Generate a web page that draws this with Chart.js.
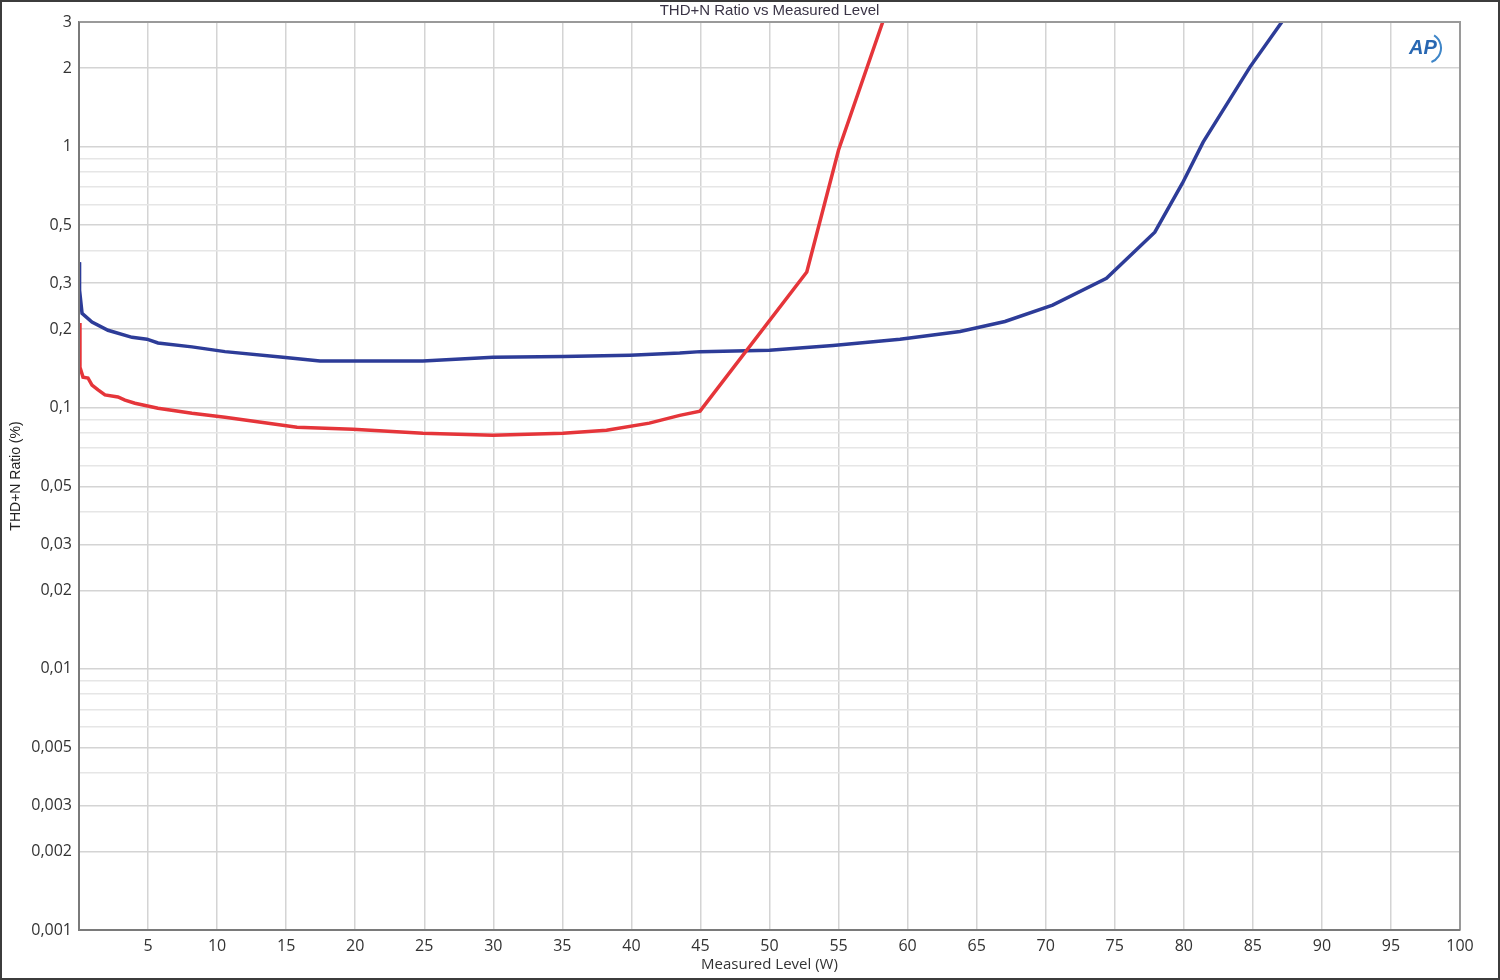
<!DOCTYPE html>
<html>
<head>
<meta charset="utf-8">
<script src="https://cdn.jsdelivr.net/npm/chart.js@4.4.0/dist/chart.umd.min.js"></script>
<style>
  html, body { margin: 0; padding: 0; background: #fff; }
  #wrap { width: 1500px; height: 980px; position: relative; }
</style>
</head>
<body>
<div id="wrap"><canvas id="thdChart" width="1500" height="980"></canvas></div>
<script>
// red trace (W, %)
const redX = [0, 0.07, 0.29, 0.65, 0.94, 1.38, 1.88, 2.82, 3.33, 4.05, 5.72, 8.18, 10.57, 15.79, 19.84, 24.9, 29.98, 35.05, 38.2, 41.3, 43.5, 44.97, 52.7, 55.0, 58.2];
const redY = [0.211, 0.143, 0.131, 0.130, 0.122, 0.117, 0.112, 0.110, 0.107, 0.104, 0.0995, 0.0953, 0.092, 0.0842, 0.0828, 0.0798, 0.0785, 0.0798, 0.0820, 0.0873, 0.0935, 0.097, 0.331, 0.97, 3.0];

// blue trace (W, %)
const blueX = [0, 0.04, 0.22, 0.94, 2.1, 3.84, 4.92, 5.72, 8.18, 10.57, 14.77, 17.45, 24.9, 29.98, 35.05, 39.9, 43.5, 45, 50.0, 54.6, 59.45, 63.8, 67.05, 70.5, 74.4, 77.9, 79.9, 81.4, 84.8, 87.1];
const blueY = [0.361, 0.282, 0.230, 0.213, 0.198, 0.186, 0.183, 0.177, 0.171, 0.164, 0.156, 0.151, 0.151, 0.156, 0.157, 0.159, 0.162, 0.164, 0.166, 0.173, 0.183, 0.196, 0.214, 0.247, 0.313, 0.470, 0.724, 1.04, 2.02, 3.0];

// labelled y ticks and their text
const yTickValues = [0.001, 0.002, 0.003, 0.005, 0.01, 0.02, 0.03, 0.05, 0.1, 0.2, 0.3, 0.5, 1, 2, 3];
const yTickLabels = ['0,001', '0,002', '0,003', '0,005', '0,01', '0,02', '0,03', '0,05', '0,1', '0,2', '0,3', '0,5', '1', '2', '3'];
const xTickLabels = ['', '5', '10', '15', '20', '25', '30', '35', '40', '45', '50', '55', '60', '65', '70', '75', '80', '85', '90', '95', '100'];
const chartTitle = 'THD+N Ratio vs Measured Level';

const toPoints = (xs, ys) => xs.map((x, i) => ({ x, y: ys[i] }));

// every 1..9 multiple gets a grid line, only some are labelled
function yGridTicks() {
  const out = [];
  for (let e = -3; e <= 0; e++) {
    for (let m = 1; m <= 9; m++) {
      const v = Number((m * Math.pow(10, e)).toPrecision(2));
      if (v <= 3) out.push({ value: v });
    }
  }
  return out;
}
const labelFor = v => {
  const i = yTickValues.findIndex(t => Math.abs(t - v) / t < 1e-6);
  return i >= 0 ? yTickLabels[i] : '';
};

const framePlugin = {
  id: 'frame',
  afterDatasetsDraw(chart) {
    const { ctx, chartArea: a } = chart;
    ctx.save();
    ctx.strokeStyle = '#9a9a9a';
    ctx.lineWidth = 2;
    ctx.beginPath();
    ctx.moveTo(a.left, a.top); ctx.lineTo(a.right, a.top); ctx.lineTo(a.right, a.bottom);
    ctx.stroke();
    ctx.strokeStyle = '#7a7a7a';
    ctx.beginPath();
    ctx.moveTo(a.left, a.top); ctx.lineTo(a.left, a.bottom); ctx.lineTo(a.right, a.bottom);
    ctx.stroke();
    ctx.restore();
  },
  afterDraw(chart) {
    const { ctx, width, height, chartArea: a } = chart;
    ctx.save();
    ctx.strokeStyle = '#3c3c3c';
    ctx.lineWidth = 2;
    ctx.strokeRect(1, 1, width - 2, height - 2);
    // title centred over the plot area
    ctx.font = '15px "Liberation Sans", Arial, sans-serif';
    ctx.fillStyle = '#3a3446';
    ctx.textAlign = 'center';
    ctx.textBaseline = 'middle';
    ctx.fillText(chartTitle, (a.left + a.right) / 2, 11);
    // AP badge
    ctx.font = 'italic bold 20px "Liberation Sans", Arial, sans-serif';
    ctx.fillStyle = '#2867b2';
    ctx.fillText('AP', 1423, 48);
    ctx.strokeStyle = '#3f86c8';
    ctx.lineWidth = 2;
    ctx.beginPath();
    ctx.arc(1426, 48, 15, -1.0, 1.2);
    ctx.stroke();
    ctx.restore();
  }
};

new Chart(document.getElementById('thdChart'), {
  type: 'line',
  data: {
    datasets: [
      { label: 'Red', data: toPoints(redX, redY), borderColor: '#e5353a', borderWidth: 3.5, pointRadius: 0, tension: 0 },
      { label: 'Blue', data: toPoints(blueX, blueY), borderColor: '#2d3c98', borderWidth: 3.5, pointRadius: 0, tension: 0 }
    ]
  },
  options: {
    responsive: false, animation: false,
    layout: { padding: { left: 0, right: 40, top: 22, bottom: 0 } },
    plugins: {
      legend: { display: false }, tooltip: { enabled: false }, title: { display: false }
    },
    scales: {
      x: {
        type: 'linear', min: 0, max: 100,
        afterFit: s => { s.height = 50; },
        ticks: {
          stepSize: 5, autoSkip: false, maxRotation: 0, padding: 7, color: '#333',
          font: { family: '"Open Sans", sans-serif', size: 16 },
          callback: v => xTickLabels[Math.round(v / 5)] ?? ''
        },
        grid: { color: '#d4d4d4', lineWidth: 1.5, drawTicks: false },
        border: { color: '#7a7a7a', width: 2 },
        title: {
          display: true, text: 'Measured Level (W)', color: '#333',
          font: { family: '"Open Sans", sans-serif', size: 15 },
          padding: { top: 0, bottom: 6 }
        }
      },
      y: {
        type: 'logarithmic', min: 0.001, max: 3,
        afterFit: s => { s.width = 79; },
        afterBuildTicks: s => { s.ticks = yGridTicks(); },
        ticks: {
          autoSkip: false, padding: 7, color: '#333',
          font: { family: '"Open Sans", sans-serif', size: 16 },
          callback: v => labelFor(v)
        },
        grid: {
          drawTicks: false, lineWidth: 1.5,
          color: c => (c.tick && labelFor(c.tick.value)) ? '#d4d4d4' : '#e6e6e6'
        },
        border: { color: '#7a7a7a', width: 2 },
        title: {
          display: true, text: 'THD+N Ratio (%)', color: '#222',
          font: { family: '"Liberation Sans", Arial, sans-serif', size: 14 },
          padding: { top: 8, bottom: 0 }
        }
      }
    }
  },
  plugins: [framePlugin]
});
</script>
</body>
</html>
